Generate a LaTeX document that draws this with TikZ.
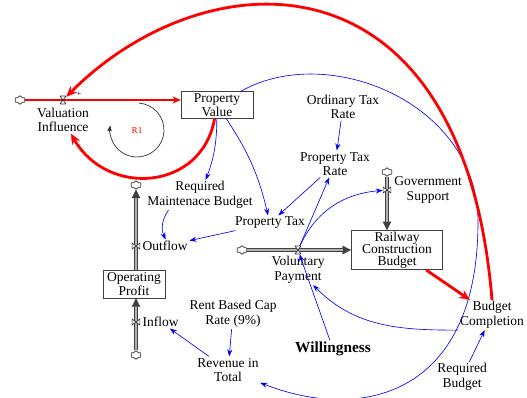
\documentclass[tikz,border=0pt]{standalone}
\usepackage{fontspec}
\setmainfont{Liberation Serif}
\usetikzlibrary{arrows.meta,positioning,shapes.symbols}

\begin{document}
\begin{tikzpicture}[x=0.025cm,y=0.025cm,
  font=\fontsize{9.6}{10.4}\selectfont,
  lbl/.style={align=center,inner sep=1pt},
  stock/.style={draw=black!75,align=center,inner sep=1pt,font=\fontsize{9.6}{8.6}\selectfont},
  cloudc/.style={cloud,cloud puffs=6,aspect=1.3,draw=black!80,fill=white,line width=0.5pt,inner sep=0pt,minimum width=7.5pt,minimum height=6pt},
  valveh/.style={inner sep=0pt,minimum width=4.3pt,minimum height=5.7pt,
    path picture={\filldraw[fill=white,draw=black!80,line width=0.5pt]
      (path picture bounding box.north west) -- (path picture bounding box.south east)
      -- (path picture bounding box.south west) -- (path picture bounding box.north east) -- cycle;}},
  valvev/.style={inner sep=0pt,minimum width=5.7pt,minimum height=4.3pt,
    path picture={\filldraw[fill=white,draw=black!80,line width=0.5pt]
      (path picture bounding box.north west) -- (path picture bounding box.south east)
      -- (path picture bounding box.north east) -- (path picture bounding box.south west) -- cycle;}},
  link/.style={blue,line width=0.45pt,-{Stealth[length=5pt,width=3.6pt]}},
  redlink/.style={red,line width=2pt,-{Stealth[length=7.5pt,width=6.5pt,line width=0.2pt]}},
  pipe/.style={black!75,line width=3.2pt,-{Triangle[length=6pt,width=6pt,line width=0.2pt]}},
  pipecore/.style={black!30,line width=1.8pt,shorten >=6pt}]
  \useasboundingbox (0,0) rectangle (527,397);

  % Stocks
  \node[stock,minimum width=51pt,minimum height=19pt] (PV) at (217,292) {Property\\Value};
  \node[stock,minimum width=44pt,minimum height=20pt] (OP) at (134,113) {Operating\\Profit};
  \node[stock,minimum width=65pt,minimum height=26pt] (RCB) at (397,147) {Railway\\Construction\\Budget};

  % Clouds
  \node[cloudc] (VIc) at (20,297) {};
  \node[cloudc] (OutC) at (136,212) {};
  \node[cloudc] (InC) at (136,42) {};
  \node[cloudc] (VPc) at (242,147) {};
  \node[cloudc] (GSc) at (387,225) {};

  % Flows
  \draw[red,line width=0.9pt,-{Stealth[length=6pt,width=5pt]}] (VIc) -- (VIc -| PV.west);
  \draw[pipe] (OP.north -| OutC) -- (OutC);
  \draw[pipecore] (OP.north -| OutC) -- (OutC);
  \draw[pipe] (InC) -- (InC |- OP.south);
  \draw[pipecore] (InC) -- (InC |- OP.south);
  \draw[pipe] (VPc) -- (RCB);
  \draw[pipecore] (VPc) -- (RCB);
  \draw[pipe] (GSc) -- (GSc |- RCB.north);
  \draw[pipecore] (GSc) -- (GSc |- RCB.north);

  % Valves
  \node[valveh] (VIv) at (63,297) {};
  \node[valvev] (Outv) at (136,151) {};
  \node[valvev] (Inv) at (136,75) {};
  \node[valveh] (VPv) at (298,147) {};
  \node[valvev] (GSv) at (387,207) {};

  % Labels
  \node[lbl] (VI) at (63,277) {Valuation\\Influence};
  \node[lbl,right=0.5pt of Outv] (OutL) {Outflow};
  \node[lbl,right=0.5pt of Inv] (InL) {Inflow};
  \node[lbl] (VP) at (298,127) {Voluntary\\Payment};
  \node[lbl,right=1pt of GSv] (GS) {Government\\Support};
  \node[lbl] (RMB) at (200,202) {Required\\Maintenace Budget};
  \node[lbl] (PT) at (270,174) {Property Tax};
  \node[lbl] (OTR) at (343,290) {Ordinary Tax\\Rate};
  \node[lbl] (PTR) at (335,233) {Property Tax\\Rate};
  \node[lbl] (RBC) at (233,83) {Rent Based Cap\\Rate (9\%)};
  \node[lbl] (Rev) at (228,27) {Revenue in\\Total};
  \node[lbl,font=\fontsize{10.9}{12}\selectfont\bfseries] (Will) at (333,48) {Willingness};
  \node[lbl] (BC) at (492,82) {Budget\\Completion};
  \node[lbl] (RB) at (462,20) {Required\\Budget};
  \node[text=red,font=\fontsize{6.5}{7}\selectfont] (R1) at (137,267) {R1};
  \node[font=\fontsize{6}{7}\selectfont] (plus) at (79,303) {+};

  % Loop marker
  \draw[black!80,line width=0.5pt,-{Triangle[length=4pt,width=3pt]}]
    ([shift={(86:27)}]R1.center) arc[start angle=86,end angle=-190,radius=27];

  % Links
  \draw[link] (PV) to[bend left=10] (RMB);
  \draw[link] (PV) to[bend left=10] (PT);
  \draw[link] (RMB) to[bend right=30] (OutL);
  \draw[link] (PT) -- (OutL);
  \draw[link] (OTR) -- (PTR);
  \draw[link] (PTR) -- (PT);
  \draw[link] (VPv) -- (PTR);
  \draw[link] (Will) -- (VPv);
  \draw[link] (VPv) to[out=65,in=185] (GSv);
  \draw[link] (BC.south west) to[out=180,in=-45] (VP);
  \draw[link] (RBC) -- (Rev);
  \draw[link] (Rev) -- (InL);
  \draw[link] (RB) -- (BC);
  \coordinate (arcR) at (478,175);
  \draw[link] (PV) .. controls (327,355) and (478,295) .. (arcR)
    .. controls (478,0) and (360,-25) .. (Rev);

  % Reinforcing loop
  \draw[redlink] (RCB) -- (BC);
  \draw[redlink] (BC.north) .. controls (463,452) and (207,441) .. (VIv);
  \draw[redlink] (PV) to[out=-100,in=-60,looseness=1.3] (VI);
\end{tikzpicture}
\end{document}
